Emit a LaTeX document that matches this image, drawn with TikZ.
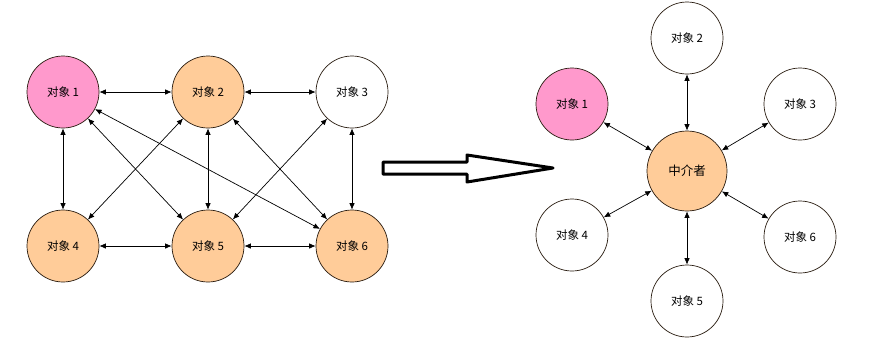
\documentclass[tikz,border=0pt]{standalone}
\usepackage{fontspec}
\newfontfamily\cjk{Noto Sans CJK SC}
\usetikzlibrary{arrows.meta}
\definecolor{pinkobj}{HTML}{FF99CC}
\definecolor{orangeobj}{HTML}{FFCC99}
\begin{document}
\begin{tikzpicture}[x=1pt,y=-1pt,
  obj/.style={circle,draw=black!80!brown,line width=0.7pt,minimum size=72pt,inner sep=0pt,font=\cjk\fontsize{11.5}{13}\selectfont},
  link/.style={line width=0.7pt,{Latex[length=6.5pt,width=5.5pt]}-{Latex[length=6.5pt,width=5.5pt]}}]
\useasboundingbox (0,0) rectangle (871,357);
% left graph
\node[obj,fill=pinkobj] (a1) at (63,92) {对象 1};
\node[obj,fill=orangeobj] (a2) at (208,92) {对象 2};
\node[obj,fill=white] (a3) at (352,92) {对象 3};
\node[obj,fill=orangeobj] (a4) at (63,246) {对象 4};
\node[obj,fill=orangeobj] (a5) at (208,246) {对象 5};
\node[obj,fill=orangeobj] (a6) at (352,246) {对象 6};
\draw[link] (a1) -- (a2);
\draw[link] (a2) -- (a3);
\draw[link] (a1) -- (a4);
\draw[link] (a2) -- (a5);
\draw[link] (a3) -- (a6);
\draw[link] (a4) -- (a5);
\draw[link] (a5) -- (a6);
\draw[link] (a1) -- (a5);
\draw[link] (a1) -- (a6);
\draw[link] (a2) -- (a4);
\draw[link] (a2) -- (a6);
\draw[link] (a3) -- (a5);
% hollow arrow
\draw[line width=3pt,line join=round,fill=white]
  (383,162) -- (467,162) -- (467,155) -- (553,168) -- (467,182) -- (467,174) -- (383,174) -- cycle;
% right graph
\node[obj,fill=orangeobj,minimum size=80pt,font=\cjk\fontsize{12.5}{14}\selectfont] (m) at (687,171) {中介者};
\node[obj,fill=pinkobj] (b1) at (572,104) {对象 1};
\node[obj,fill=white] (b2) at (687,38) {对象 2};
\node[obj,fill=white] (b3) at (800,104) {对象 3};
\node[obj,fill=white] (b4) at (572,235) {对象 4};
\node[obj,fill=white] (b5) at (687,301) {对象 5};
\node[obj,fill=white] (b6) at (800,237) {对象 6};
\foreach \b in {b1,b2,b3,b4,b5,b6} \draw[link] (m) -- (\b);
\end{tikzpicture}
\end{document}
